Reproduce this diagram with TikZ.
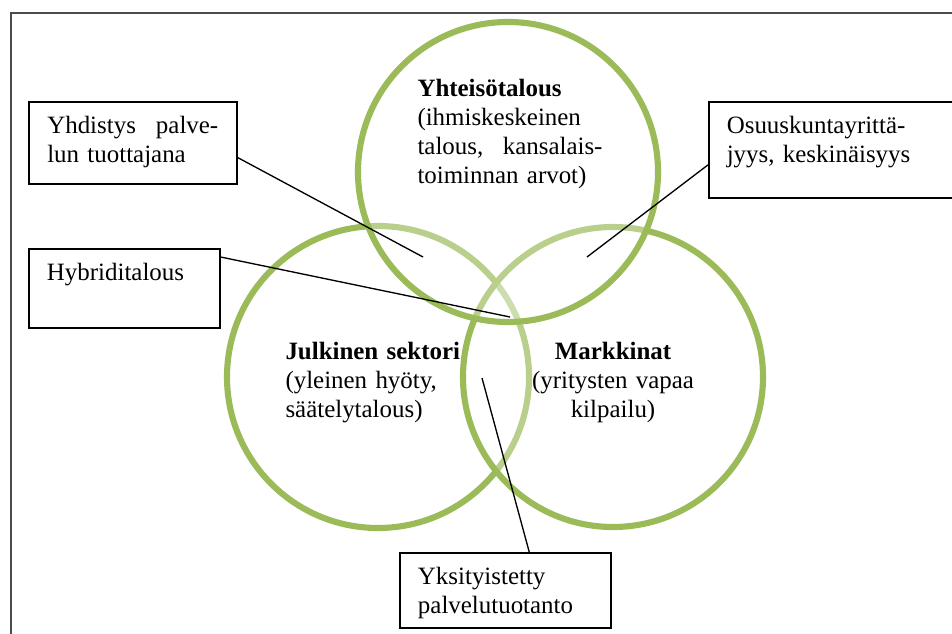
\documentclass[tikz,border=0pt]{standalone}
\usepackage{fontspec}
\setmainfont{Liberation Serif}
\definecolor{vennGreen}{RGB}{155,187,89}
\tikzset{every picture/.style={line width=0.75pt}}

\begin{document}
\begin{tikzpicture}[x=0.75pt,y=0.75pt,yscale=-1,xscale=1,
	every node/.style={font=\fontsize{18.7}{21.75}\selectfont},
	ring/.style={draw=vennGreen, draw opacity=1, line width=4.6pt, fill=white, fill opacity=0.3},
	textbox/.style={draw, line width=1.2pt, anchor=north west, align=left, inner xsep=13.5pt, inner ysep=11.25pt, text height=12.75pt},
	leader/.style={line width=1pt},
	label/.style={inner sep=0pt, align=left}]
	\useasboundingbox (0,0) rectangle (952,634);
	
	%Straight Lines (frame)
	\draw [color=black!70, line width=0.9pt] (11,634) -- (11,13) -- (952,13) ;
	
	%Shape: Circle (Julkinen sektori)
	\draw [ring] (378,377) circle (151) ;
	%Shape: Circle (Markkinat)
	\draw [ring] (613,377) circle (150) ;
	%Shape: Circle (Yhteisotalous)
	\draw [ring] (508,172) circle (150) ;
	
	% Text Node
	\node [label, anchor=base west, text width=138.75pt] (yhteiso) at (417,96.7) {\textbf{Yhteisötalous}\\(ihmiskeskeinen\\talous,\hfill kansalais-\\toiminnan arvot)};
	% Text Node
	\node [label, anchor=base west, text width=170pt] (julkinen) at (285,359) {\textbf{Julkinen sektori}\\(yleinen hyöty,\\säätelytalous)};
	% Text Node
	\node [label, anchor=base, align=center, text width=150pt] (markkinat) at (613,359) {\textbf{Markkinat}\\(yritysten vapaa\\kilpailu)};
	
	% Text Box
	\node [textbox, minimum width=156pt, text width=128.25pt, text depth=26.25pt] (yhdistys) at (28,101) {Yhdistys\hfill palve-\\lun tuottajana};
	% Text Box
	\node [textbox, minimum width=143.25pt, text width=116pt, text depth=24pt] (hybridi) at (28,248) {Hybriditalous};
	% Text Box
	\node [textbox, minimum width=183pt, text width=156pt, text depth=36.75pt] (osuus) at (708,101) {Osuuskuntayrittä-\\jyys, keskinäisyys};
	% Text Box
	\node [textbox, minimum width=158.25pt, text width=131pt, text depth=21pt] (yksit) at (399,552) {Yksityistetty\\palvelutuotanto};
	
	%Straight Lines
	\coordinate (pYhdistys) at (423,257);
	\coordinate (pHybridi) at (510,317);
	\coordinate (pOsuus) at (587,257);
	\coordinate (pYksit) at (482,378);
	\draw [leader] (yhdistys.-8) -- (pYhdistys) ;
	\draw [leader] (hybridi.18) -- (pHybridi) ;
	\draw [leader] (osuus.187) -- (pOsuus) ;
	\draw [leader] (yksit.58) -- (pYksit) ;
	
\end{tikzpicture}
\end{document}
